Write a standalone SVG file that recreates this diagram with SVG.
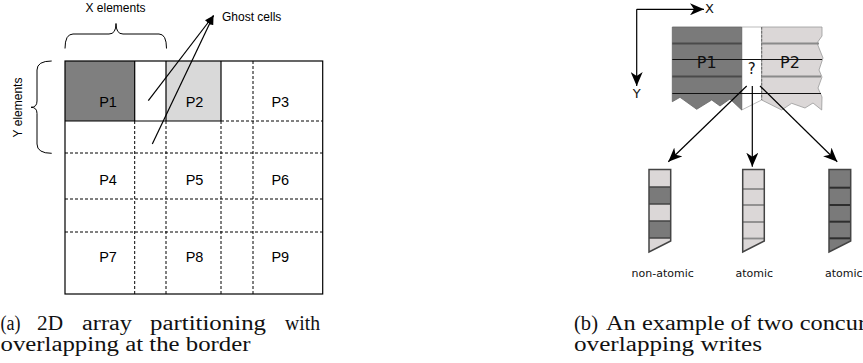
<svg xmlns="http://www.w3.org/2000/svg" width="863" height="363" viewBox="0 0 863 363">
<style>
.lbl{font-family:"Liberation Sans",Arial,sans-serif;fill:#000}
.dv{font-family:"DejaVu Sans",sans-serif;fill:#111}
.cap{font-family:"Liberation Serif","Times New Roman",serif;font-size:20px;fill:#111}
.dash{stroke:#000;stroke-width:1;stroke-dasharray:3 2;fill:none}
.solid{stroke:#000;stroke-width:1.2;fill:none}
.conn{stroke:#000;stroke-width:1.2;fill:none}
.light{fill:#dbd7d7}
.dark{fill:#7a7a7a}
</style>
<defs>
<marker id="stealth" markerUnits="userSpaceOnUse" markerWidth="14" markerHeight="12" viewBox="0 0 14 12" refX="14" refY="6" orient="auto">
<path d="M0,0 L14,6 L0,12 L4,6 Z" fill="#000"/>
</marker>
<marker id="tri" markerUnits="userSpaceOnUse" markerWidth="9" markerHeight="8" viewBox="0 0 9 8" refX="9" refY="4" orient="auto">
<path d="M0,0 L9,4 L0,8 Z" fill="#000"/>
</marker>
</defs>
<rect width="863" height="363" fill="#fff"/>

<!-- (a) grid -->
<g id="grid">
<rect x="65" y="61" width="69.7" height="60" fill="#7f7f7f"/>
<rect x="166" y="61" width="55" height="60" fill="#d9d9d9"/>
<line class="dash" x1="65" y1="153" x2="322.7" y2="153"/>
<line class="dash" x1="65" y1="199" x2="322.7" y2="199"/>
<line class="dash" x1="65" y1="232" x2="322.7" y2="232"/>
<line class="dash" x1="221" y1="121" x2="322.7" y2="121"/>
<line class="dash" x1="134.7" y1="121" x2="134.7" y2="294"/>
<line class="dash" x1="166" y1="121" x2="166" y2="294"/>
<line class="dash" x1="221" y1="121" x2="221" y2="294"/>
<line class="dash" x1="253" y1="61" x2="253" y2="294"/>
<line class="solid" x1="65" y1="121" x2="221" y2="121"/>
<line class="solid" x1="134.7" y1="61" x2="134.7" y2="121"/>
<line class="solid" x1="166" y1="61" x2="166" y2="121"/>
<line class="solid" x1="221" y1="61" x2="221" y2="121"/>
<rect class="solid" x="65" y="61" width="257.7" height="233"/>
</g>
<g id="node-P1"><text class="lbl" x="108" y="107" font-size="14.5" text-anchor="middle">P1</text></g>
<g id="node-P2"><text class="lbl" x="194.5" y="107" font-size="14.5" text-anchor="middle">P2</text></g>
<g id="node-P3"><text class="lbl" x="280.3" y="107" font-size="14.5" text-anchor="middle">P3</text></g>
<g id="node-P4"><text class="lbl" x="108" y="185" font-size="14.5" text-anchor="middle">P4</text></g>
<g id="node-P5"><text class="lbl" x="194.5" y="185" font-size="14.5" text-anchor="middle">P5</text></g>
<g id="node-P6"><text class="lbl" x="280.3" y="185" font-size="14.5" text-anchor="middle">P6</text></g>
<g id="node-P7"><text class="lbl" x="108" y="262" font-size="14.5" text-anchor="middle">P7</text></g>
<g id="node-P8"><text class="lbl" x="194.5" y="262" font-size="14.5" text-anchor="middle">P8</text></g>
<g id="node-P9"><text class="lbl" x="280.3" y="262" font-size="14.5" text-anchor="middle">P9</text></g>

<g id="x-brace">
<path d="M65,48.5 Q65,34 73,34 L109,34 Q116,34 116,23.5 Q116,34 123,34 L159,34 Q166.5,34 166.5,48.5" fill="none" stroke="#000" stroke-width="1"/>
<text class="lbl" x="115.5" y="12.3" font-size="12" text-anchor="middle">X elements</text>
</g>
<g id="y-brace">
<path d="M51.7,61 Q37,61 37,70 L37,101 Q37,107.3 31,107.3 Q37,107.3 37,113.5 L37,144 Q37,153.3 51.7,153.3" fill="none" stroke="#000" stroke-width="1"/>
<text class="lbl" transform="translate(21.5,107.5) rotate(-90)" font-size="12" text-anchor="middle">Y elements</text>
</g>
<g id="ghost-label">
<text class="lbl" x="222" y="21" font-size="12">Ghost cells</text>
</g>

<!-- (b) strip -->
<g id="strip">
<polygon points="741.7,27 761.7,27 761.7,100 741.7,110" fill="#fff" stroke="#aaa" stroke-width="0.8"/>
<polygon class="dark" points="672.3,27 741.7,27 741.7,110 730,99 720,106 711.7,100 696.7,109.3 680,97.3 672.3,101.7" stroke="#666" stroke-width="0.8"/>
<polygon class="light" points="761.7,27 822,27 822,36 817,43 823,58 819,70 822,77 818,88 822,97 821.7,110 813,103 805,108 791.7,103.3 781.7,110 761.7,100" stroke="#999" stroke-width="0.8"/>
<line x1="761.7" y1="27" x2="761.7" y2="100" stroke="#555" stroke-width="0.8" stroke-dasharray="2.5 1.5"/>
<line x1="672.3" y1="43.5" x2="741.7" y2="43.5" stroke="#4a4a4a" stroke-width="2"/>
<line x1="761.7" y1="43.5" x2="819" y2="43.5" stroke="#8a8a8a" stroke-width="2"/>
<line x1="672.3" y1="76.5" x2="741.7" y2="76.5" stroke="#4a4a4a" stroke-width="2"/>
<line x1="761.7" y1="76.5" x2="821" y2="76.5" stroke="#8a8a8a" stroke-width="2"/>
<line x1="672.3" y1="59.5" x2="822" y2="59.5" stroke="#111" stroke-width="1.1"/>
<line x1="672.3" y1="93.5" x2="821" y2="93.5" stroke="#111" stroke-width="1.1"/>
<text class="dv" x="706.7" y="68" font-size="16" text-anchor="middle">P1</text>
<text class="dv" x="790" y="68" font-size="16" text-anchor="middle">P2</text>
<text class="dv" x="751.7" y="74" font-size="15" text-anchor="middle">?</text>
</g>
<g id="axis-labels">
<text class="dv" x="709.5" y="12.5" font-size="13" text-anchor="middle">X</text>
<text class="dv" x="636.7" y="97.5" font-size="13" text-anchor="middle">Y</text>
</g>

<!-- bars -->
<g id="bar-nonatomic">
<rect class="light" x="649" y="169.5" width="21.7" height="17.5"/>
<rect class="dark" x="649" y="187" width="21.7" height="17"/>
<rect class="light" x="649" y="204" width="21.7" height="17"/>
<rect class="dark" x="649" y="221" width="21.7" height="17"/>
<polygon class="light" points="649,238 670.7,238 670.7,241 649,252"/>
<g stroke="#444" stroke-width="1.5">
<line x1="649" y1="187" x2="670.7" y2="187"/>
<line x1="649" y1="204" x2="670.7" y2="204"/>
<line x1="649" y1="221" x2="670.7" y2="221"/>
<line x1="649" y1="238" x2="670.7" y2="238"/>
</g>
<polygon points="649,169.5 670.7,169.5 670.7,241 649,252" fill="none" stroke="#444" stroke-width="1.5"/>
<text class="dv" x="662.7" y="276.5" font-size="11" text-anchor="middle">non-atomic</text>
</g>
<g id="bar-atomic-1">
<polygon class="light" points="742.7,169.5 764.3,169.5 764.3,241 742.7,252"/>
<g stroke="#8a8a8a" stroke-width="1.8">
<line x1="742.7" y1="189" x2="764.3" y2="189"/>
<line x1="742.7" y1="205" x2="764.3" y2="205"/>
<line x1="742.7" y1="222" x2="764.3" y2="222"/>
<line x1="742.7" y1="238.5" x2="764.3" y2="238.5"/>
</g>
<polygon points="742.7,169.5 764.3,169.5 764.3,241 742.7,252" fill="none" stroke="#444" stroke-width="1.5"/>
<text class="dv" x="754.3" y="276.5" font-size="11" text-anchor="middle">atomic</text>
</g>
<g id="bar-atomic-2">
<polygon class="dark" points="829,169.5 850.7,169.5 850.7,241 829,252"/>
<g stroke="#2e2e2e" stroke-width="2">
<line x1="829" y1="187.7" x2="850.7" y2="187.7"/>
<line x1="829" y1="205" x2="850.7" y2="205"/>
<line x1="829" y1="221.7" x2="850.7" y2="221.7"/>
<line x1="829" y1="238.3" x2="850.7" y2="238.3"/>
</g>
<polygon points="829,169.5 850.7,169.5 850.7,241 829,252" fill="none" stroke="#444" stroke-width="1.5"/>
<text class="dv" x="843.8" y="276.5" font-size="11" text-anchor="middle">atomic</text>
</g>

<!-- connectors -->
<g id="connectors">
<line class="conn" x1="148.3" y1="100.7" x2="213.5" y2="15.5" stroke-width="1" marker-end="url(#tri)"/>
<line class="conn" x1="152.3" y1="144" x2="213.5" y2="15.5" stroke-width="1" marker-end="url(#tri)"/>
<line class="conn" x1="746.7" y1="86" x2="668.3" y2="161.7" marker-end="url(#stealth)"/>
<line class="conn" x1="752.3" y1="86" x2="752.3" y2="166.7" marker-end="url(#stealth)"/>
<line class="conn" x1="760" y1="86" x2="837.3" y2="161.7" marker-end="url(#stealth)"/>
<line class="conn" x1="636.7" y1="9.3" x2="704" y2="9.3" marker-end="url(#stealth)"/>
<line class="conn" x1="636.7" y1="9.3" x2="636.7" y2="86" marker-end="url(#stealth)"/>
</g>

<!-- captions -->
<g id="caption-a">
<text class="cap" x="0.5" y="330" textLength="20" lengthAdjust="spacingAndGlyphs">(a)</text>
<text class="cap" x="37" y="330" textLength="26" lengthAdjust="spacingAndGlyphs">2D</text>
<text class="cap" x="82" y="330" textLength="50" lengthAdjust="spacingAndGlyphs">array</text>
<text class="cap" x="150" y="330" textLength="116" lengthAdjust="spacingAndGlyphs">partitioning</text>
<text class="cap" x="285" y="330" textLength="35" lengthAdjust="spacingAndGlyphs">with</text>
<text class="cap" x="0.5" y="351" textLength="250" lengthAdjust="spacingAndGlyphs">overlapping at the border</text>
</g>
<g id="caption-b">
<text class="cap" x="574" y="330" textLength="24" lengthAdjust="spacingAndGlyphs">(b)</text>
<text class="cap" x="606" y="330" textLength="260" lengthAdjust="spacingAndGlyphs">An example of two concur</text>
<text class="cap" x="574" y="351" textLength="188" lengthAdjust="spacingAndGlyphs">overlapping writes</text>
</g>
</svg>
